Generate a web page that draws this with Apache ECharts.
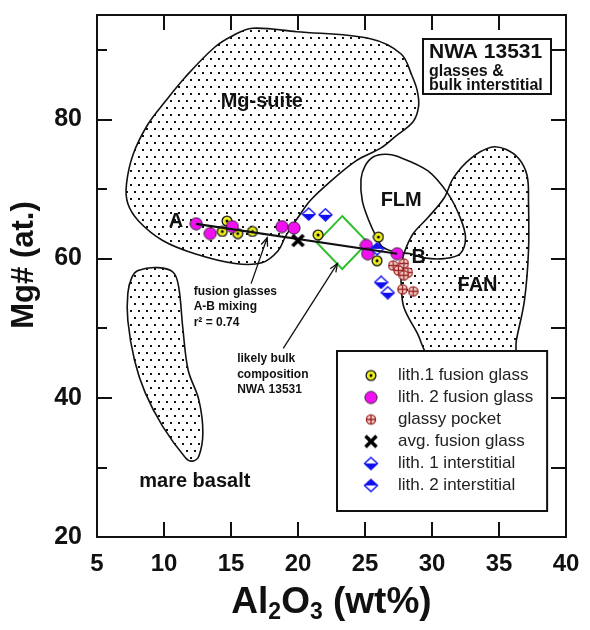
<!DOCTYPE html>
<html>
<head>
<meta charset="utf-8">
<script src="https://cdn.jsdelivr.net/npm/echarts@6/dist/echarts.min.js"></script>
<style>
  html, body { margin: 0; padding: 0; background: #fff; }
  #main { width: 590px; height: 630px; }
</style>
</head>
<body>
<div id="main"></div>
<script>
var FONT = '"Liberation Sans", Arial, Helvetica, sans-serif';

// points: [Al2O3 wt%, Mg#]
var lith1Glass = [[14.7, 65.4], [14.35, 63.9], [15.5, 63.6], [16.6, 63.9], [21.5, 63.4], [26.0, 63.1], [25.9, 59.7]];
var lith2Glass = [[12.4, 65.0], [13.45, 63.6], [15.1, 64.6], [18.8, 64.6], [19.7, 64.4], [25.1, 61.9], [25.2, 60.7], [27.4, 60.7]];
var glassyPocket = [[27.1, 59.0], [27.9, 59.3], [27.5, 58.3], [28.2, 58.0], [27.9, 57.6], [27.8, 55.6], [28.6, 55.3]];
var avgGlass = [[20.0, 62.6]];
var lith1Inter = [[20.8, 66.4], [22.05, 66.3], [26.2, 56.6], [26.7, 55.1]];
var lith2Inter = [[25.9, 61.4]];
var bulkComp = [[23.3, 62.3]];
var mixingLine = [[12.4, 65.0], [27.4, 60.7]];

// field outlines
var mgSuite = [[28.9, 84.1], [29.0, 81.9], [28.6, 79.7], [27.3, 77.6], [26.2, 75.9], [24.3, 74.0], [22.2, 70.7],
  [20.9, 68.3], [20.0, 65.9], [19.1, 63.3], [18.5, 61.1], [17.3, 59.4], [15.3, 59.3], [12.3, 60.7], [9.9, 62.6],
  [8.1, 65.4], [7.3, 67.9], [7.2, 70.7], [7.7, 75.0], [8.8, 79.3], [10.1, 82.6], [11.6, 86.1], [13.8, 90.4],
  [15.2, 92.1], [16.6, 93.1], [19.9, 92.6], [25.4, 91.6], [27.7, 89.4], [28.5, 86.3]];
var flm = [[24.7, 71.4], [25.0, 73.3], [25.6, 74.6], [26.5, 75.0], [27.4, 74.7], [29.7, 72.6], [31.2, 69.3],
  [32.1, 65.9], [32.5, 63.0], [32.1, 60.7], [30.9, 60.0], [29.4, 60.1], [28.4, 60.7], [27.4, 60.9], [26.3, 61.7],
  [25.8, 63.3], [25.3, 65.4], [24.8, 68.3]];
var fan = [[34.4, 76.0], [35.5, 75.7], [36.5, 74.3], [37.1, 71.9], [37.2, 68.3], [37.2, 61.1], [36.9, 54.0],
  [36.3, 48.3], [36.0, 44.7], [32.9, 44.3], [29.9, 45.7], [28.9, 49.3], [27.9, 53.0], [27.7, 56.4], [27.7, 58.7],
  [27.9, 60.7], [28.6, 63.6], [29.7, 65.9], [30.9, 68.7], [31.6, 71.6], [32.9, 74.4]];
var mareBasalt = [[8.07, 58.3], [9.56, 58.7], [10.7, 58.0], [11.1, 55.9], [11.4, 50.1], [11.8, 44.0], [12.6, 39.7],
  [12.9, 35.0], [12.6, 31.6], [12.1, 30.9], [11.6, 31.4], [9.9, 35.9], [8.6, 40.7], [7.8, 45.4], [7.3, 51.1],
  [7.3, 55.0], [7.6, 57.3]];

// arrows: [x0, y0, x1, y1]
var arrows = [[16.5, 56.4, 17.7, 63.0], [18.9, 47.1, 22.95, 59.3]];

var fieldLabels = [['Mg-suite', 17.3, 82.6], ['FLM', 27.7, 68.3], ['FAN', 33.4, 56.1], ['mare basalt', 12.3, 28.0]];
var pointLabels = [['A', 10.9, 65.4], ['B', 29.0, 60.1]];
var notes = [['fusion glasses\nA-B mixing\nr\u00b2 = 0.74', 12.25, 56.3], ['likely bulk\ncomposition\nNWA 13531', 15.5, 46.6]];

var xTicks = [5, 10, 15, 20, 25, 30, 35, 40];
var yTicks = [20, 40, 60, 80];

var legendNames = ['lith.1 fusion glass', 'lith. 2 fusion glass', 'glassy pocket', 'avg. fusion glass',
  'lith. 1 interstitial', 'lith. 2 interstitial'];

// marker drawings, centred on (cx, cy)
function marker(w, h, draw) {
  var c = document.createElement('canvas');
  c.width = w; c.height = h;
  draw(c.getContext('2d'), w / 2, h / 2);
  return 'image://' + c.toDataURL();
}
function drawYellow(g, x, y) {
  g.beginPath(); g.arc(x, y, 4.9, 0, Math.PI * 2);
  g.fillStyle = '#f0f01e'; g.fill(); g.lineWidth = 1.3; g.strokeStyle = '#111'; g.stroke();
  g.beginPath(); g.arc(x, y, 1.5, 0, Math.PI * 2); g.fillStyle = '#000'; g.fill();
}
function drawMagenta(g, x, y) {
  g.beginPath(); g.arc(x, y, 6.1, 0, Math.PI * 2);
  g.fillStyle = '#f010f0'; g.fill(); g.lineWidth = 1; g.strokeStyle = '#3a1a3a'; g.stroke();
}
function drawPocket(g, x, y) {
  g.beginPath(); g.arc(x, y, 4.6, 0, Math.PI * 2);
  g.fillStyle = '#f2cfc8'; g.fill(); g.lineWidth = 1.3; g.strokeStyle = '#9c2626'; g.stroke();
  g.beginPath(); g.moveTo(x, y - 4.5); g.lineTo(x, y + 4.5); g.moveTo(x - 4.5, y); g.lineTo(x + 4.5, y); g.stroke();
}
function drawCross(g, x, y) {
  g.lineWidth = 3.6; g.strokeStyle = '#000'; g.lineCap = 'butt';
  g.beginPath(); g.moveTo(x - 5.5, y - 5.5); g.lineTo(x + 5.5, y + 5.5);
  g.moveTo(x + 5.5, y - 5.5); g.lineTo(x - 5.5, y + 5.5); g.stroke();
}
function drawDiamond(fillTop) {
  return function (g, x, y) {
    var t = [x, y - 6], r = [x + 6.5, y], b = [x, y + 6], l = [x - 6.5, y];
    g.fillStyle = '#fff';
    g.beginPath(); g.moveTo(t[0], t[1]); g.lineTo(r[0], r[1]); g.lineTo(b[0], b[1]); g.lineTo(l[0], l[1]); g.closePath(); g.fill();
    g.fillStyle = '#1010f0';
    g.beginPath(); g.moveTo(l[0], l[1]);
    if (fillTop) g.lineTo(t[0], t[1]); else g.lineTo(b[0], b[1]);
    g.lineTo(r[0], r[1]); g.closePath(); g.fill();
    g.lineWidth = 1.4; g.strokeStyle = '#1010f0';
    g.beginPath(); g.moveTo(t[0], t[1]); g.lineTo(r[0], r[1]); g.lineTo(b[0], b[1]); g.lineTo(l[0], l[1]); g.closePath(); g.stroke();
  };
}
var draws = [drawYellow, drawMagenta, drawPocket, drawCross, drawDiamond(false), drawDiamond(true)];
var sizes = [[12, 12], [14, 14], [11, 11], [15, 15], [15, 14], [15, 14]];
var plotSyms = draws.map(function (d, i) { return marker(sizes[i][0], sizes[i][1], d); });
var legendSyms = draws.map(function (d) { return marker(16, 16, d); });

// dotted fill
var tile = document.createElement('canvas');
tile.width = 16; tile.height = 14;
(function (g) {
  g.fillStyle = '#111';
  [[2, 2], [10, 2], [6, 9], [14, 9]].forEach(function (p) { g.fillRect(p[0], p[1], 2, 2); });
})(tile.getContext('2d'));
var dots = { image: tile, repeat: 'repeat' };

function field(outline, fill) {
  return {
    type: 'custom', silent: true, z: 1,
    data: [outline[0]],
    renderItem: function (params, api) {
      var pts = outline.map(function (p) { return api.coord(p); });
      return {
        type: 'polygon',
        shape: { points: pts, smooth: 0.35 },
        style: { fill: fill, stroke: '#111', lineWidth: 1.6 }
      };
    }
  };
}

function pts(i, data, z) {
  return {
    name: legendNames[i], type: 'scatter', data: data, symbol: plotSyms[i], symbolSize: sizes[i], z: z,
    itemStyle: { opacity: 1 }
  };
}

function labels(list, style) {
  return {
    type: 'scatter', silent: true, z: 8, symbolSize: 1,
    itemStyle: { color: 'rgba(0,0,0,0)', opacity: 1 },
    data: list.map(function (d) { return { name: d[0], value: [d[1], d[2]] }; }),
    label: Object.assign({ show: true, formatter: '{b}', fontFamily: FONT, color: '#111', fontWeight: 'bold' }, style)
  };
}

var chart = echarts.init(document.getElementById('main'));
var tickLine = { color: '#111', width: 2 };

var option = {
  backgroundColor: '#fff',
  animation: false,
  title: {
    left: 423, top: 37,
    text: '{a|NWA 13531}\n{b|glasses &}\n{b|bulk interstitial}',
    borderColor: '#111', borderWidth: 2, padding: [3, 8, 0, 6],
    textStyle: {
      rich: {
        a: { fontFamily: FONT, fontSize: 21, fontWeight: 'bold', color: '#111', lineHeight: 24 },
        b: { fontFamily: FONT, fontSize: 16, fontWeight: 'bold', color: '#111', lineHeight: 14.5 }
      }
    }
  },
  legend: {
    orient: 'vertical', left: 337, top: 351,
    data: legendNames.map(function (n, i) { return { name: n, icon: legendSyms[i] }; }),
    itemWidth: 44, itemHeight: 16, itemGap: 5,
    padding: [16, 14, 17, 12],
    backgroundColor: '#fff', borderColor: '#111', borderWidth: 2,
    textStyle: { fontFamily: FONT, fontSize: 17, color: '#222' },
    selectedMode: false
  },
  grid: { left: 97, right: 24, top: 15, bottom: 93 },
  xAxis: [{
    type: 'value', min: xTicks[0], max: xTicks[xTicks.length - 1], interval: 5,
    axisLine: { lineStyle: tickLine },
    axisTick: { inside: true, length: 15, lineStyle: tickLine },
    splitLine: { show: false },
    axisLabel: { margin: 15, fontFamily: FONT, fontSize: 24, fontWeight: 'bold', color: '#111' },
    name: '{a|Al}{s|2}{a|O}{s|3}{a| (wt%)}',
    nameLocation: 'middle', nameGap: 44,
    nameTextStyle: {
      rich: {
        a: { fontFamily: FONT, fontSize: 37, fontWeight: 'bold', color: '#111' },
        s: { fontFamily: FONT, fontSize: 23, fontWeight: 'bold', color: '#111', padding: [20, 0, 0, 0] }
      }
    }
  }, {
    type: 'value', position: 'top', min: 5, max: 40, interval: 5,
    axisLine: { lineStyle: tickLine },
    axisTick: { inside: true, length: 15, lineStyle: tickLine },
    axisLabel: { show: false }, splitLine: { show: false }
  }],
  yAxis: [{
    type: 'value', min: 20, max: 95, interval: 20,
    axisLine: { lineStyle: tickLine },
    axisTick: { inside: true, length: 15, lineStyle: tickLine },
    splitLine: { show: false },
    axisLabel: {
      margin: 15, fontFamily: FONT, fontSize: 25, fontWeight: 'bold', color: '#111',
      formatter: function (v) { return yTicks.indexOf(v) >= 0 ? String(v) : ''; }
    },
    name: 'Mg# (at.)', nameLocation: 'middle', nameGap: 57,
    nameTextStyle: { fontFamily: FONT, fontSize: 31, fontWeight: 'bold', color: '#111', padding: [0, 0, 0, 22] }
  }, {
    type: 'value', position: 'left', min: 20, max: 95, interval: 10,
    axisLine: { show: false },
    axisTick: { inside: true, length: 10, lineStyle: tickLine },
    axisLabel: { show: false }, splitLine: { show: false }
  }, {
    type: 'value', position: 'right', min: 20, max: 95, interval: 10,
    axisLine: { show: true, lineStyle: tickLine },
    axisTick: { inside: true, length: 15, lineStyle: tickLine },
    axisLabel: { show: false }, splitLine: { show: false }
  }],
  series: [
    field(mgSuite, dots),
    field(fan, dots),
    field(mareBasalt, dots),
    field(flm, 'none'),
    {
      type: 'scatter', data: bulkComp, symbol: 'diamond', symbolSize: [51, 53], z: 2, silent: true,
      itemStyle: { color: 'rgba(0,0,0,0)', borderColor: '#2fbf2f', borderWidth: 2, opacity: 1 }
    },
    {
      type: 'custom', silent: true, z: 3,
      data: arrows,
      encode: { x: [0, 2], y: [1, 3] },
      renderItem: function (params, api) {
        var a = api.coord([api.value(0), api.value(1)]);
        var b = api.coord([api.value(2), api.value(3)]);
        var ang = Math.atan2(b[1] - a[1], b[0] - a[0]);
        var L = 9, w = 0.38;
        var h1 = [b[0] - L * Math.cos(ang - w), b[1] - L * Math.sin(ang - w)];
        var h2 = [b[0] - L * Math.cos(ang + w), b[1] - L * Math.sin(ang + w)];
        return {
          type: 'group', children: [
            { type: 'line', shape: { x1: a[0], y1: a[1], x2: b[0], y2: b[1] }, style: { stroke: '#111', lineWidth: 1.3 } },
            { type: 'polyline', shape: { points: [h1, b, h2] }, style: { stroke: '#111', lineWidth: 1.3, fill: 'none' } }
          ]
        };
      }
    },
    pts(0, lith1Glass, 4),
    pts(1, lith2Glass, 4),
    pts(2, glassyPocket, 4),
    pts(4, lith1Inter, 4),
    pts(5, lith2Inter, 4),
    {
      type: 'line', data: mixingLine, symbol: 'none', z: 5, silent: true,
      lineStyle: { color: '#111', width: 2.2 }
    },
    pts(3, avgGlass, 6),
    labels(fieldLabels, { position: 'inside', fontSize: 20 }),
    labels(pointLabels, { position: 'inside', fontSize: 20 }),
    labels(notes, { position: [0, 0], align: 'left', verticalAlign: 'top', fontSize: 12, lineHeight: 15.5 })
  ]
};

chart.setOption(option);
</script>
</body>
</html>
